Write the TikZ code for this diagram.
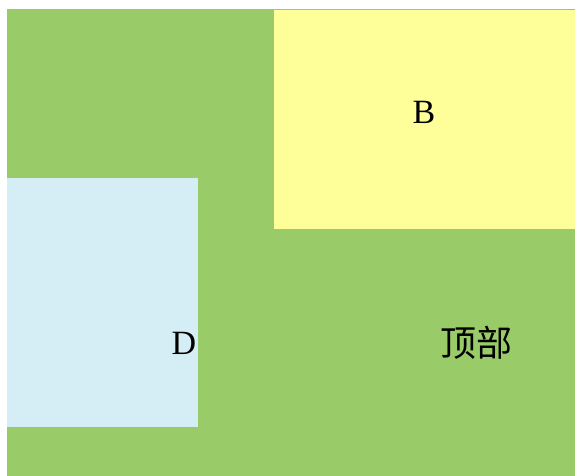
\documentclass[tikz,border=0pt]{standalone}
\usepackage{fontspec}
\setmainfont{Liberation Serif}
\newfontfamily\cjk{Noto Sans CJK SC}
\definecolor{bggreen}{HTML}{99CC69}
\definecolor{byellow}{HTML}{FFFF99}
\definecolor{dblue}{HTML}{D5EEF5}
\tikzset{region/.style={draw=none,inner sep=0pt,anchor=north west},
  lbl/.style={font=\fontsize{34}{40}\selectfont}}
\begin{document}
\begin{tikzpicture}[x=1pt,y=-1pt]
\useasboundingbox (0,0) rectangle (575,476);
\fill[white] (0,0) rectangle (575,476);
\node[region,fill=bggreen,minimum width=568pt,minimum height=467pt] (top) at (7,9) {};
\node[region,fill=byellow,minimum width=301pt,minimum height=219pt] (b) at (274,10) {};
\node[region,fill=dblue,minimum width=191pt,minimum height=249pt] (d) at (7,178) {};
\node[lbl] (bl) at (424,112) {B};
\node[lbl] (dl) at (184,343) {D};
\node[lbl,font=\cjk\fontsize{36}{40}\selectfont] (tl) at (476,343) {顶部};
\end{tikzpicture}
\end{document}
